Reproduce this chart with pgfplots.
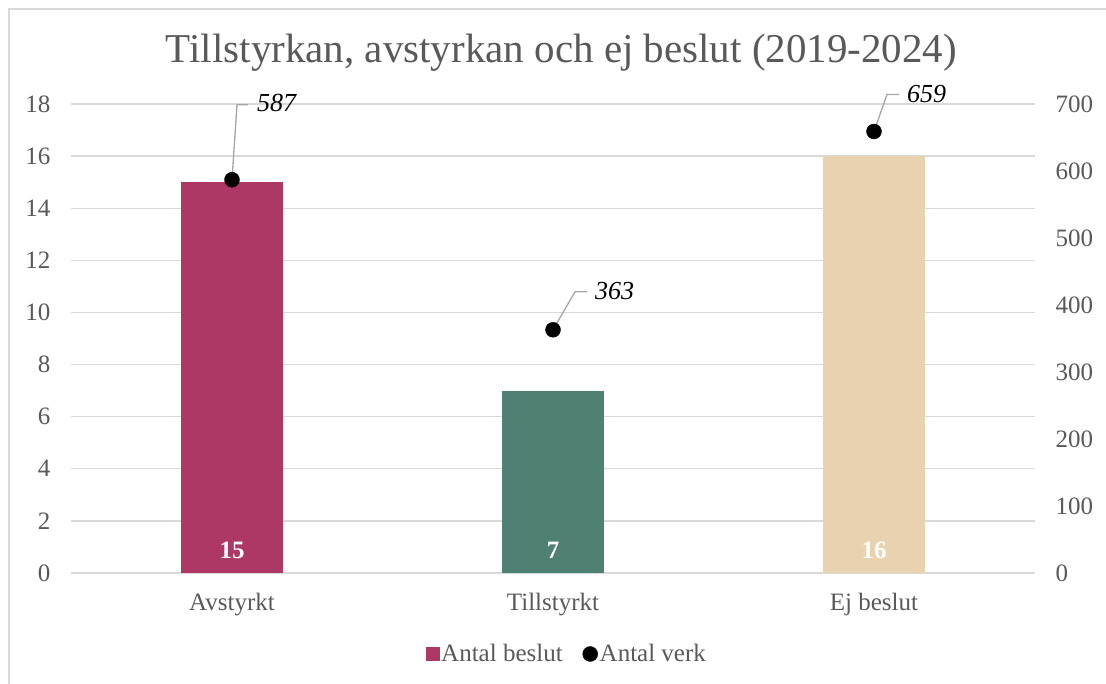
\documentclass[border=0pt]{standalone}
\usepackage{pgfplots}
\pgfplotsset{compat=1.18}
\usepackage{fontspec}
\setmainfont{Liberation Serif}
\definecolor{cA}{HTML}{AD3765}
\definecolor{cT}{HTML}{4E8073}
\definecolor{cE}{HTML}{E9D2B0}
\definecolor{gridc}{HTML}{D9D9D9}
\definecolor{txt}{HTML}{595959}
\definecolor{lead}{HTML}{A6A6A6}
\begin{document}
\begin{tikzpicture}[x=1pt,y=1pt]
\useasboundingbox (0,0) rectangle (1106,684);
\draw[gridc, line width=1.5pt] (9,-5) -- (9,675) -- (1115,675);
\node[anchor=base, text=txt, font=\fontsize{41}{45}\selectfont, inner sep=0pt] at (561.5,621) {Tillstyrkan, avstyrkan och ej beslut (2019-2024)};
\pgfplotsset{
  base/.style={
    at={(71.5pt,111pt)}, anchor=south west, scale only axis,
    width=963pt, height=469pt,
    xmin=-0.5, xmax=2.5,
    axis line style={draw=none},
    major tick length=0pt,
    tick label style={font=\fontsize{25}{28}\selectfont, text=txt},
    /pgf/number format/assume math mode=true,
  }
}
\begin{axis}[base,
  ymin=0, ymax=18, ytick={0,2,...,18},
  ymajorgrids, grid style={gridc, line width=1.4pt},
  xtick={0,1,2}, xticklabels={Avstyrkt,Tillstyrkt,Ej beslut},
  xticklabel style={anchor=base, inner sep=0pt, yshift=-38pt},
  yticklabel style={anchor=east, inner sep=0pt, xshift=-21pt},
  ybar, bar width=0.315, bar shift=0pt,
]
\addplot[fill=cA, draw=none] coordinates {(0,15)};
\addplot[fill=cT, draw=none] coordinates {(1,7)};
\addplot[fill=cE, draw=none] coordinates {(2,16)};
\node[anchor=base, text=white, font=\fontsize{25}{28}\selectfont\bfseries, yshift=14pt] at (axis cs:0,0) {15};
\node[anchor=base, text=white, font=\fontsize{25}{28}\selectfont\bfseries, yshift=14pt] at (axis cs:1,0) {7};
\node[anchor=base, text=white, font=\fontsize{25}{28}\selectfont\bfseries, yshift=14pt] at (axis cs:2,0) {16};
\end{axis}
\begin{axis}[base,
  clip=false,
  ymin=0, ymax=700, ytick={0,100,...,700},
  hide x axis, axis y line*=right,
  yticklabel style={anchor=west, inner sep=0pt, xshift=21pt},
  legend columns=2,
  legend style={at={(0.5146,-0.1727)}, anchor=center, draw=none, fill=none,
    font=\fontsize{25}{28}\selectfont, text=txt,
    /tikz/every even column/.append style={column sep=18pt}},
]
\addlegendimage{only marks, mark=square*, mark size=6.5pt, color=cA}
\addlegendentry{Antal beslut}
\addplot[only marks, mark=*, mark size=7.5pt, black] coordinates {(0,587) (1,363) (2,659)};
\addlegendentry{Antal verk}
\draw[lead, line width=1.3pt] (axis cs:0,587) -- ++(5pt,75pt) -- ++(11pt,0pt);
\draw[lead, line width=1.3pt] (axis cs:1,363) -- ++(22pt,38pt) -- ++(12pt,0pt);
\draw[lead, line width=1.3pt] (axis cs:2,659) -- ++(13pt,37pt) -- ++(12pt,0pt);
\node[anchor=base west, inner sep=0pt, font=\fontsize{26}{28}\selectfont\itshape, xshift=25pt, yshift=68pt] at (axis cs:0,587) {587};
\node[anchor=base west, inner sep=0pt, font=\fontsize{26}{28}\selectfont\itshape, xshift=42pt, yshift=30pt] at (axis cs:1,363) {363};
\node[anchor=base west, inner sep=0pt, font=\fontsize{26}{28}\selectfont\itshape, xshift=33pt, yshift=29pt] at (axis cs:2,659) {659};
\end{axis}
\end{tikzpicture}
\end{document}
